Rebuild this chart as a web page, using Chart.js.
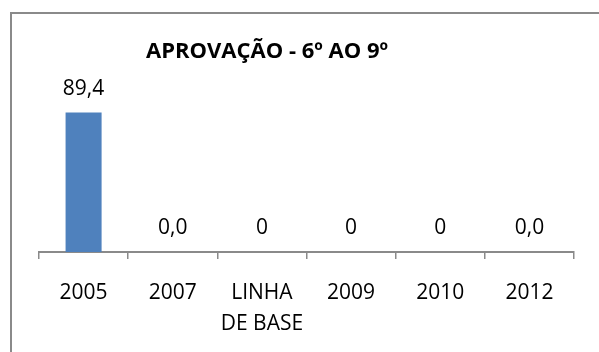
<!DOCTYPE html>
<html lang="pt">
<head>
  <meta charset="UTF-8" />
  <title>Aprovação - 6º ao 9º</title>
  <script src="https://cdn.jsdelivr.net/npm/chart.js"></script>
  <style>
    * {
      box-sizing: border-box;
    }

    html, body {
      margin: 0;
      padding: 0;
      background: #fff;
      overflow: hidden;
    }

    #wrap {
      position: relative;
      width: 599px;
      height: 352px;
      overflow: hidden;
    }

    #frame {
      position: absolute;
      left: 10px;
      top: 12px;
      width: 700px;
      height: 500px;
      border: 2px solid #8a8a8a;
      pointer-events: none;
    }

    canvas {
      position: absolute;
      left: 0;
      top: 0;
    }
  </style>
</head>
<body>

  <div id="wrap">
    <canvas id="aprovChart" width="599" height="368"></canvas>
    <div id="frame"></div>
  </div>

  <script>
    const chartTitle = 'APROVAÇÃO - 6º AO 9º';
    const categories = ['2005', '2007', ['LINHA', 'DE BASE'], '2009', '2010', '2012'];
    const values = [89.4, 0, 0, 0, 0, 0];
    const valueLabels = ['89,4', '0,0', '0', '0', '0', '0,0'];

    const FONT = "'Open Sans', 'Liberation Sans', sans-serif";

    // title sits a little left of the plot centre, as in the sheet
    const titlePlugin = {
      id: 'sheetTitle',
      afterDraw: chart => {
        const ctx = chart.ctx;
        ctx.save();
        ctx.font = `bold 22px ${FONT}`;
        ctx.fillStyle = '#000';
        ctx.textAlign = 'center';
        ctx.textBaseline = 'alphabetic';
        ctx.fillText(chartTitle, 267, 58);
        ctx.restore();
      }
    };

    // value written above each bar
    const valueLabelPlugin = {
      id: 'valueLabels',
      afterDatasetsDraw: chart => {
        const ctx = chart.ctx;
        const meta = chart.getDatasetMeta(0);
        ctx.save();
        ctx.font = `21px ${FONT}`;
        ctx.fillStyle = '#000';
        ctx.textAlign = 'center';
        ctx.textBaseline = 'alphabetic';
        meta.data.forEach((bar, i) => {
          ctx.fillText(valueLabels[i], bar.x, bar.y - 18);
        });
        ctx.restore();
      }
    };

    const ctx = document.getElementById('aprovChart').getContext('2d');

    new Chart(ctx, {
      type: 'bar',
      data: {
        labels: categories,
        datasets: [{
          data: values,
          backgroundColor: '#4f81bd',
          borderWidth: 0,
          categoryPercentage: 1,
          barPercentage: 0.404
        }]
      },
      options: {
        responsive: false,
        animation: false,
        layout: {
          padding: { left: 39, right: 25, top: 96, bottom: 10 }
        },
        plugins: {
          legend: { display: false },
          title: { display: false },
          tooltip: { enabled: false }
        },
        scales: {
          x: {
            offset: true,
            grid: {
              offset: true,
              drawOnChartArea: false,
              drawTicks: true,
              tickLength: 7,
              color: '#8a8a8a',
              lineWidth: 1.5
            },
            border: {
              display: true,
              color: '#8a8a8a',
              width: 2
            },
            ticks: {
              color: '#000',
              padding: 18,
              maxRotation: 0,
              autoSkip: false,
              font: { family: FONT, size: 21, lineHeight: 1.5 }
            }
          },
          y: {
            display: false,
            min: 0,
            max: 100
          }
        }
      },
      plugins: [titlePlugin, valueLabelPlugin]
    });
  </script>

</body>
</html>
